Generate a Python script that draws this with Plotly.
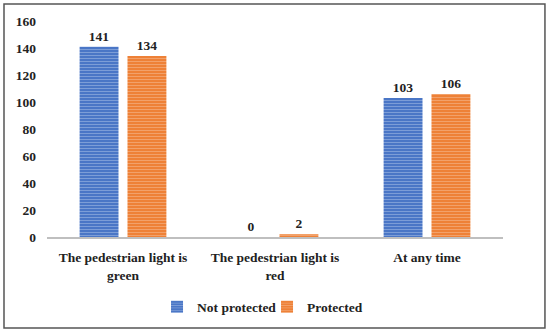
import plotly.graph_objects as go

categories = ["The pedestrian light is<br>green", "The pedestrian light is<br>red", "At any time"]
not_protected = [141, 0, 103]
protected = [134, 2, 106]
y_ticks = [0, 20, 40, 60, 80, 100, 120, 140, 160]

FONT = "Liberation Serif"
TF = dict(family=FONT, size=13.5, color="#222", weight="bold")

fig = go.Figure()
fig.add_trace(go.Bar(
    x=categories, y=not_protected, name="Not protected",
    marker=dict(color="#4472C4", line=dict(width=0),
                pattern=dict(shape="-", fgcolor="#B4C7EA", bgcolor="#4472C4", size=3, solidity=0.4)),
    text=not_protected, textposition="outside", cliponaxis=False,
    textfont=TF,
))
fig.add_trace(go.Bar(
    x=categories, y=protected, name="Protected",
    marker=dict(color="#ED7D31", line=dict(width=0),
                pattern=dict(shape="-", fgcolor="#F8C6A3", bgcolor="#ED7D31", size=3, solidity=0.4)),
    text=protected, textposition="outside", cliponaxis=False,
    textfont=TF,
))

fig.update_layout(
    width=550, height=334,
    margin=dict(l=47, r=47, t=21, b=97, autoexpand=False),
    paper_bgcolor="white", plot_bgcolor="white",
    barmode="group", bargap=0.37, bargroupgap=0.1875,
    font=TF,
    showlegend=True,
    legend=dict(orientation="h", xref="container", yref="container",
                x=0.2855, y=0.081, xanchor="left", yanchor="middle",
                font=dict(family=FONT, size=13.5, color="#222", weight="bold"),
                itemwidth=30, entrywidth=65, traceorder="normal"),
    xaxis=dict(showline=True, linecolor="#BFBFBF", linewidth=2, ticks="",
               ticklabelstandoff=7,
               tickfont=TF, showgrid=False, automargin=False),
    yaxis=dict(range=[0, 160], tickvals=y_ticks, showgrid=False, zeroline=False,
               showline=False, ticks="", ticklabelstandoff=10, automargin=False,
               tickfont=TF),
    shapes=[dict(type="rect", xref="paper", yref="paper",
                 x0=-0.0943, x1=1.092, y0=-0.4213, y1=1.0787,
                 line=dict(color="#555", width=1.5), fillcolor="rgba(0,0,0,0)", layer="below")],
)

fig.write_html("out.html", config={"displayModeBar": False},
               post_script="document.body.style.margin='0';document.body.style.overflow='hidden';")
